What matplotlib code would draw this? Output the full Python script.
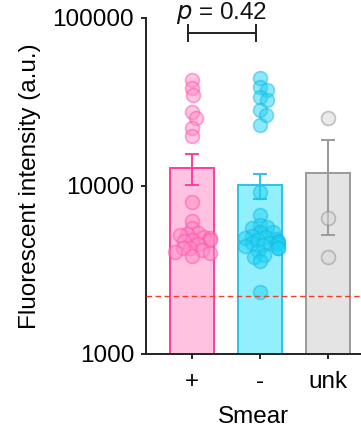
import matplotlib
matplotlib.use("Agg")
import matplotlib.pyplot as plt
import numpy as np

plt.rcParams["font.family"] = ["Liberation Sans", "DejaVu Sans"]
plt.rcParams["font.size"] = 17.5

# Smear groups
groups = ["+", "-", "unk"]

# per-sample fluorescent intensity (a.u.)
pos_vals = [42800, 38300, 34800, 27600, 25400, 22100, 19900,
            8000, 6200, 5600, 5250, 5200, 5100, 4950, 4900, 4800, 4750,
            4700, 4500, 4300, 4250, 4150, 4050, 4000, 3850]
neg_vals = [43900, 38800, 37200, 33900, 32500, 28300, 26500, 23100,
            9200, 6700, 5860, 5700, 5600, 5300, 5300, 5050, 5000, 4900,
            4850, 4800, 4700, 4650, 4600, 4550, 4500, 4450, 4400, 4300,
            4250, 4100, 3900, 3800, 3600, 2340]
unk_vals = [25400, 6450, 3780]

# bar = mean, whisker = SEM
means = [12800, 10100, 11900]
sems = [2700, 1700, 6800]

threshold = 2200
p_text = "0.42"

bar_face = ["#ffc2e0", "#92effc", "#e4e4e4"]
bar_edge = ["#ff3d9e", "#2bc3e8", "#9a9a9a"]
dot_face = ["#ff8cc6", "#1fd2f4", "#d8d8d8"]
dot_edge = ["#ff4fa6", "#16b9e2", "#8a8a8a"]


def swarm(ax, xc, vals, min_d=7.0, step=1.5, max_off=17.0):
    """Spread points sideways (in pixels) so circles do not stack exactly."""
    pts = ax.transData.transform(np.column_stack([np.full(len(vals), xc), vals]))
    x0, ys = pts[0, 0], pts[:, 1]
    placed = []
    xs = np.empty(len(vals))
    for i in np.argsort(vals)[::-1]:
        k = 0
        while True:
            off = step * ((k + 1) // 2) * (1 if k % 2 else -1) if k else 0.0
            clash = any(np.hypot(off - px, ys[i] - py) < min_d for px, py in placed)
            if not clash or abs(off) > max_off:
                break
            k += 1
        placed.append((off, ys[i]))
        xs[i] = x0 + off
    inv = ax.transData.inverted()
    return inv.transform(np.column_stack([xs, ys]))[:, 0]


fig = plt.figure(figsize=(3.61, 4.29), dpi=100)
ax = fig.add_axes([146 / 361, 75 / 429, 215 / 361, 336 / 429])
ax.set_yscale("log")
ax.set_ylim(1000, 100000)
ax.set_xlim(-0.676, 2.485)

x = np.arange(len(groups))
ax.bar(x, means, width=0.66, bottom=1, color=bar_face, edgecolor=bar_edge,
       linewidth=1.4, zorder=2)
for i in range(len(groups)):
    ax.errorbar(x[i], means[i], yerr=sems[i], fmt="none", ecolor=bar_edge[i],
                elinewidth=1.4, capsize=4.8, capthick=1.4, zorder=3)

ax.axhline(threshold, color="#f0402c", linestyle=(0, (4, 2.5)), linewidth=1.0, zorder=5)

for i, vals in enumerate([pos_vals, neg_vals, unk_vals]):
    xs = swarm(ax, x[i], vals)
    ax.scatter(xs, vals, s=100, facecolor=dot_face[i], edgecolor=dot_edge[i],
               alpha=0.5, linewidth=1.2, zorder=4)

# significance bracket between + and -
yb = 81500
ax.plot([-0.06, 0.94], [yb, yb], color="#222222", lw=1.4, clip_on=False)
for xb in (-0.06, 0.94):
    ax.plot([xb, xb], [yb * 0.895, yb / 0.895], color="#222222", lw=1.4, clip_on=False)
ax.text(0.44, 98500, "$\\it{p}$ = " + p_text, ha="center", va="baseline",
        fontsize=17.5, color="#111111")

ax.spines["top"].set_visible(False)
ax.spines["right"].set_visible(False)
for s in ("left", "bottom"):
    ax.spines[s].set_linewidth(1.4)
    ax.spines[s].set_color("#222222")

ax.set_yticks([1000, 10000, 100000])
ax.set_yticklabels(["1000", "10000", "100000"])
ax.yaxis.set_minor_locator(matplotlib.ticker.NullLocator())
ax.set_xticks(x)
ax.set_xticklabels(groups)
ax.tick_params(axis="y", length=3.5, width=1.4, color="#222222", pad=5)
ax.tick_params(axis="x", length=3.5, width=1.4, color="#222222", pad=9)
ax.set_ylabel("Fluorescent intensity (a.u.)", labelpad=8)
ax.set_xlabel("Smear", labelpad=9)

fig.savefig("out.png", dpi=100)
